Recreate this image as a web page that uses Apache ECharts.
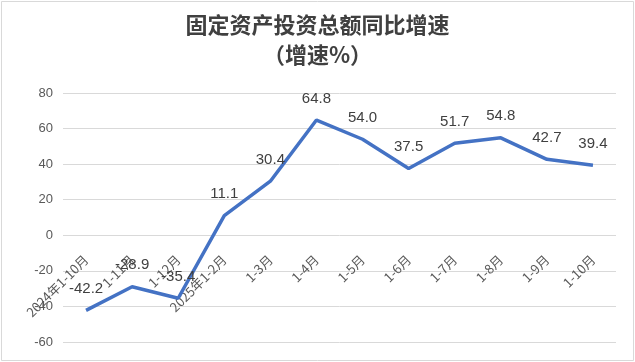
<!DOCTYPE html>
<html><head><meta charset="utf-8">
<script src="https://cdn.jsdelivr.net/npm/echarts@6/dist/echarts.min.js"></script>
<style>html,body{margin:0;padding:0;background:#fff}#c{width:635px;height:362px}</style>
</head><body><div id="c"></div>
<script>
const titleText = '固定资产投资总额同比增速\n（增速%）';
const categories = ['2024年1-10月','1-11月','1-12月','2025年1-2月','1-3月','1-4月','1-5月','1-6月','1-7月','1-8月','1-9月','1-10月'];
const growth = [-42.2, -28.9, -35.4, 11.1, 30.4, 64.8, 54.0, 37.5, 51.7, 54.8, 42.7, 39.4];
const yMin = -60, yMax = 80, yStep = 20;

const gridTop = 93, gridBottom = 20, H = 362;
const gridH = H - gridTop - gridBottom;
const zeroOffset = -((0 - yMin) / (yMax - yMin)) * gridH;

const chart = echarts.init(document.getElementById('c'), null, {renderer:'canvas'});
chart.setOption({
  backgroundColor:'#fff',
  animation:false,
  graphic:[{type:'rect',shape:{x:1.5,y:1.5,width:632,height:359},style:{fill:'none',stroke:'#d9d9d9',lineWidth:1}}],
  title:{
    text:titleText, left:'center', top:5,
    textStyle:{fontFamily:'"Noto Sans CJK SC"',fontSize:22,fontWeight:'bold',color:'#404040',lineHeight:30}
  },
  grid:{left:63,right:19,top:gridTop,bottom:gridBottom,containLabel:false,outerBoundsMode:'none'},
  xAxis:{
    type:'category', data:categories, boundaryGap:true, offset:zeroOffset,
    axisLine:{show:false,onZero:false}, axisTick:{show:false},
    axisLabel:{rotate:45,margin:22,interval:0,fontSize:13,color:'#595959',fontFamily:'"Noto Sans CJK SC"'}
  },
  yAxis:{
    type:'value', min:yMin, max:yMax, interval:yStep,
    axisLine:{show:false}, axisTick:{show:false},
    axisLabel:{fontSize:13,color:'#595959',margin:10,fontFamily:'"Liberation Sans"'},
    splitLine:{lineStyle:{color:'#d9d9d9',width:1}}
  },
  series:[{
    type:'line', data:growth, symbol:'circle', symbolSize:0, showSymbol:true,
    itemStyle:{color:'#4472C4'},
    lineStyle:{color:'#4472C4',width:3.5},
    label:{show:true,position:'top',distance:14,fontSize:15,color:'#404040',fontFamily:'"Liberation Sans"',
      formatter:p=>Number(p.value).toFixed(1)}
  }]
});
</script></body></html>
